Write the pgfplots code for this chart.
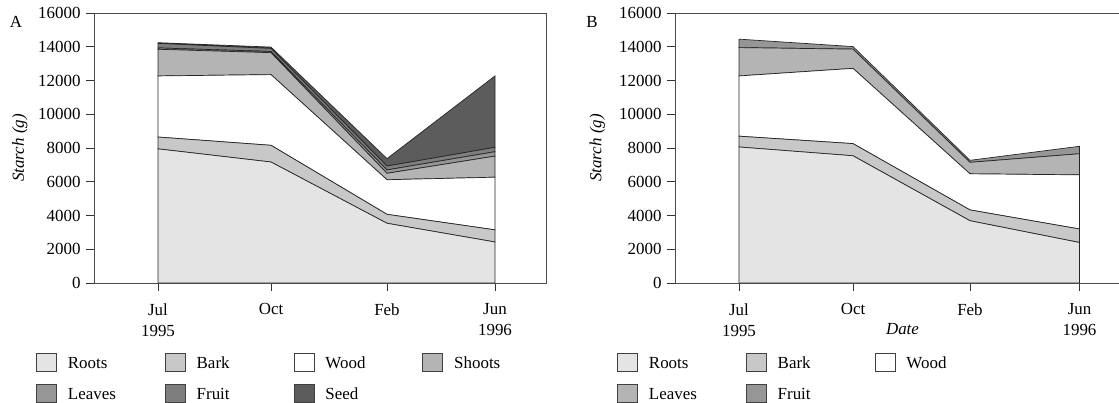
\documentclass[border=0pt]{standalone}
\usepackage{fontspec}
\setmainfont{Liberation Serif}
\usepackage{pgfplots}
\usepackage{pgfplotstable}
\pgfplotsset{compat=1.18}

% increments for stacked areas (x in axis units = bp from Jul tick)
\pgfplotstableread{
x   roots bark wood shoots leaves fruit seed
0   7950  700  3620 1580   80     270   40
113 7170  990  4190 1300   70     180   80
229 3540  530  2050 380    200    230   440
337 2430  720  3120 1250   260    260   4230
}\dataA
\pgfplotstableread{
x     roots bark wood leaves fruit
0     8060  640  3570 1680   500
114   7540  720  4460 1140   150
231   3690  640  2140 680    120
340.5 2400  800  3210 1250   440
}\dataB

\definecolor{cRoots}{HTML}{E4E4E4}
\definecolor{cBark}{HTML}{C8C8C8}
\definecolor{cShoots}{HTML}{B4B4B4}
\definecolor{cLeaves}{HTML}{969696}
\definecolor{cFruit}{HTML}{7E7E7E}
\definecolor{cSeed}{HTML}{5C5C5C}

\pgfplotsset{
  panel/.style={
    scale only axis, height=270bp,
    xmin=-64, ymin=0, ymax=16000,
    ytick={0,2000,...,16000},
    scaled y ticks=false,
    xtick=data,
    xticklabels={{Jul\\1995},Oct,Feb,{Jun\\1996}},
    tick pos=left, tick align=outside, major tick length=8bp,
    axis line style={black!70, line width=0.8bp},
    tick style={black!80, line width=0.7bp},
    stack plots=y,
    /pgf/number format/1000 sep={},
    /pgf/number format/assume math mode=true,
    tick label style={font=\fontsize{17}{21}\selectfont},
    x tick label style={align=center, yshift=-9bp},
    y tick label style={xshift=-2bp},
    ylabel={\itshape Starch (g)},
    legend cell align=left,
    legend image code/.code={\draw[#1, draw=black!75, line width=0.8bp] (0bp,-8bp) rectangle (20bp,10bp); \path (31bp,0bp);},
    legend style={draw=none, fill=none, inner sep=0pt, row sep=12bp,
      font=\fontsize{17}{21}\selectfont,
      nodes={inner sep=0pt, text width=97bp, text height=13bp, text depth=4bp},
      at={(axis description cs:0,0)}, anchor=north west, xshift=-58bp, yshift=-70bp},
    area/.style={draw=black!85, line width=0.7bp},
  }
}

\begin{document}
\begin{tikzpicture}
\begin{axis}[panel, name=A, at={(94bp,120bp)}, anchor=south west,
  width=452bp, xmax=388, legend columns=4,
  ylabel style={font=\fontsize{17}{21}\selectfont, at={(axis description cs:-0.164,0.5)}, anchor=center}]
\addplot[area, fill=cRoots]  table[x=x,y=roots]{\dataA} \closedcycle;
\addlegendentry{Roots}
\addplot[area, fill=cBark]   table[x=x,y=bark]{\dataA} \closedcycle;
\addlegendentry{Bark}
\addplot[area, fill=white]   table[x=x,y=wood]{\dataA} \closedcycle;
\addlegendentry{Wood}
\addplot[area, fill=cShoots] table[x=x,y=shoots]{\dataA} \closedcycle;
\addlegendentry{Shoots}
\addplot[area, fill=cLeaves] table[x=x,y=leaves]{\dataA} \closedcycle;
\addlegendentry{Leaves}
\addplot[area, fill=cFruit]  table[x=x,y=fruit]{\dataA} \closedcycle;
\addlegendentry{Fruit}
\addplot[area, fill=cSeed]   table[x=x,y=seed]{\dataA} \closedcycle;
\addlegendentry{Seed}
\end{axis}
\node[font=\fontsize{17}{21}\selectfont] at ([shift={(-78bp,-9bp)}]A.north west) {A};

\begin{axis}[panel, name=B, at={(675bp,120bp)}, anchor=south west,
  width=455bp, xmax=391, legend columns=3,
  ylabel style={font=\fontsize{17}{21}\selectfont, at={(axis description cs:-0.171,0.5)}, anchor=center},
  xlabel={\itshape Date},
  xlabel style={font=\fontsize{17}{21}\selectfont, at={(axis description cs:0.5,0)}, anchor=north, yshift=-40bp, inner sep=0pt}]
\addplot[area, fill=cRoots]  table[x=x,y=roots]{\dataB} \closedcycle;
\addlegendentry{Roots}
\addplot[area, fill=cBark]   table[x=x,y=bark]{\dataB} \closedcycle;
\addlegendentry{Bark}
\addplot[area, fill=white]   table[x=x,y=wood]{\dataB} \closedcycle;
\addlegendentry{Wood}
\addplot[area, fill=cShoots] table[x=x,y=leaves]{\dataB} \closedcycle;
\addlegendentry{Leaves}
\addplot[area, fill=cLeaves] table[x=x,y=fruit]{\dataB} \closedcycle;
\addlegendentry{Fruit}
\end{axis}
\node[font=\fontsize{17}{21}\selectfont] at ([shift={(-83bp,-9bp)}]B.north west) {B};

\pgfresetboundingbox
\useasboundingbox (0bp,0bp) rectangle (1119bp,403bp);
\end{tikzpicture}
\end{document}
